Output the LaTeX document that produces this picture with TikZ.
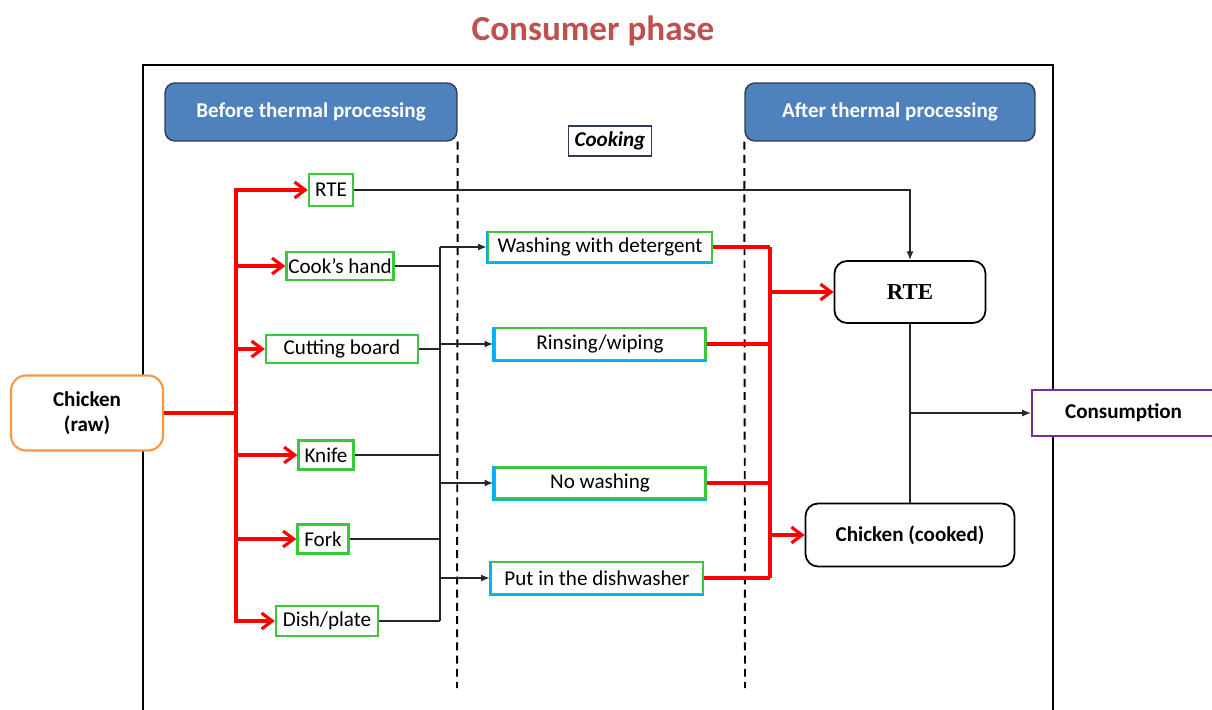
\documentclass[tikz,border=0pt]{standalone}
\usepackage{fontspec}
\setmainfont{Carlito}
\newfontfamily\serifbold{Liberation Serif}
\usetikzlibrary{arrows.meta}

\definecolor{titlered}{RGB}{192,80,77}
\definecolor{headblue}{RGB}{79,129,189}
\definecolor{headedge}{RGB}{45,60,80}
\definecolor{boxgreen}{RGB}{60,200,60}
\definecolor{boxblue}{RGB}{0,176,240}
\definecolor{rawedge}{RGB}{247,150,70}
\definecolor{eatedge}{RGB}{112,48,160}

\begin{document}
\begin{tikzpicture}[x=0.02cm, y=-0.02cm, font=\fontsize{12}{14}\selectfont,
    header/.style={draw=headedge, fill=headblue, rounded corners=0.2cm, line width=0.8pt,
        text=white, font=\fontsize{12}{14}\selectfont\bfseries, minimum height=1.16cm, inner sep=0pt},
    item/.style={draw=boxgreen, fill=white, line width=1.4pt, inner sep=0pt},
    final/.style={draw, fill=white, rounded corners=0.25cm, line width=1pt, inner sep=0pt},
    redline/.style={draw=red, line width=1.8pt},
    redarrow/.style={redline, -{Straight Barb[length=6pt,width=9pt]}},
    thinline/.style={draw=black!85, line width=0.9pt},
    thinarrow/.style={thinline, -{Latex[length=5pt,width=4pt]}},
    divider/.style={line width=1.1pt, dash pattern=on 4.5pt off 3pt}]

    \useasboundingbox (0,0) rectangle (1212,709);

    % Frame and title
    \draw[line width=1.6pt] (143,715) -- (143,65) -- (1053,65) -- (1053,715);
    \node[text=titlered, font=\fontsize{20}{22}\selectfont\bfseries] (title) at (593,31) {Consumer phase};

    % Phase headers
    \node[header, minimum width=5.84cm] (before) at (311,112) {Before thermal processing};
    \node[header, minimum width=5.80cm] (after) at (890,112) {After thermal processing};
    \node[draw=headedge, line width=0.8pt, minimum width=1.66cm, minimum height=0.6cm, inner sep=0pt,
        font=\fontsize{12}{14}\selectfont\bfseries\itshape] (cooking) at (610,141) {Cooking};
    \draw[divider] (before.south east) -- (457,688);
    \draw[divider] (after.south west) -- (745,688);

    % Nodes
    \node[draw=rawedge, fill=white, rounded corners=0.3cm, line width=1.2pt, minimum width=3.04cm,
        minimum height=1.5cm, align=center, font=\fontsize{12}{14}\selectfont\bfseries] (raw) at (87,413) {Chicken\\(raw)};

    \node[item, minimum width=0.88cm, minimum height=0.64cm] (rte1) at (331,190) {RTE};
    \node[item, minimum width=2.14cm, minimum height=0.56cm] (hand) at (340,266) {Cook's hand};
    \node[item, minimum width=3.04cm, minimum height=0.56cm] (board) at (342,349) {Cutting board};
    \node[item, minimum width=1.10cm, minimum height=0.58cm] (knife) at (326,455) {Knife};
    \node[item, minimum width=1.02cm, minimum height=0.58cm] (fork) at (323,539) {Fork};
    \node[item, minimum width=2.04cm, minimum height=0.60cm] (dish) at (327,621) {Dish/plate};

    \node[item, minimum width=4.48cm, minimum height=0.60cm] (wash) at (600,247) {Washing with detergent};
    \node[item, minimum width=4.22cm, minimum height=0.64cm] (rinse) at (600,344) {Rinsing/wiping};
    \node[item, minimum width=4.22cm, minimum height=0.62cm] (nowash) at (600,483) {No washing};
    \node[item, minimum width=4.24cm, minimum height=0.64cm] (dishwasher) at (597,578) {Put in the dishwasher};
    \foreach \n in {wash, rinse, nowash, dishwasher}
        \draw[boxblue, line width=1.4pt] (\n.north west) |- (\n.south east);

    \node[final, minimum width=3.02cm, minimum height=1.24cm, font=\serifbold\fontsize{13}{15}\selectfont\bfseries] (rte) at (910,292) {RTE};
    \node[final, minimum width=4.18cm, minimum height=1.26cm, font=\fontsize{12}{14}\selectfont\bfseries] (cooked) at (910,535) {Chicken (cooked)};
    \node[draw=eatedge, fill=white, line width=1.2pt, anchor=west, minimum width=3.66cm, minimum height=0.92cm,
        inner sep=0pt, font=\fontsize{12}{14}\selectfont\bfseries] (eat) at (1031,413) {Consumption};

    % Raw chicken to the contact surfaces
    \coordinate (split) at (236,413);
    \draw[redline] (raw.east) -- (split);
    \foreach \n in {rte1, hand, board, knife, fork, dish}
        \draw[redarrow] (split) |- (\n.west);

    % Surfaces to the cleaning steps
    \coordinate (bus) at (440,0);
    \foreach \n in {hand, board, knife, fork, dish}
        \draw[thinline] (\n.east) -- (\n.east -| bus);
    \draw[thinline] (bus |- wash.west) -- (bus |- dish.east);
    \foreach \n in {wash, rinse, nowash, dishwasher}
        \draw[thinarrow] (bus |- \n.west) -- (\n.west);

    % Cleaning steps to the cooked products
    \coordinate (rbus) at (770,0);
    \foreach \n in {wash, rinse, nowash, dishwasher}
        \draw[redline] (\n.east) -- (\n.east -| rbus);
    \draw[redline] (rbus |- wash.east) -- (rbus |- dishwasher.east);
    \draw[redarrow] (rbus |- rte.west) -- (rte.west);
    \draw[redarrow] (rbus |- cooked.west) -- (cooked.west);

    % Ready-to-eat path and consumption
    \draw[thinarrow] (rte1.east) -| (rte.north);
    \draw[thinline] (rte.south) -- (cooked.north);
    \draw[thinarrow] (rte.south |- eat.west) -- (eat.west);
\end{tikzpicture}
\end{document}
